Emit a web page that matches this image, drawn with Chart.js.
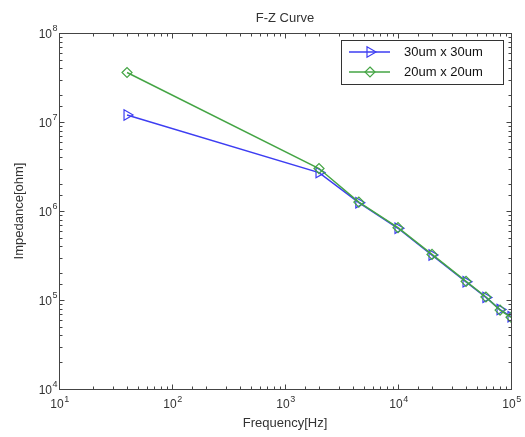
<!DOCTYPE html>
<html><head><meta charset="utf-8">
<script src="https://cdn.jsdelivr.net/npm/chart.js@4.4.0/dist/chart.umd.min.js"></script>
<style>html,body{margin:0;padding:0;background:#fff;}#wrap{width:525px;height:437px;}</style>
</head><body><div id="wrap"><canvas id="c" width="525" height="437"></canvas></div>
<script>
const chartTitle = 'F-Z Curve';
const xAxisTitle = 'Frequency[Hz]';
const yAxisTitle = 'Impedance[ohm]';
const frequencies = [40, 2000, 4500, 10000, 20000, 40000, 60000, 80000, 100000];
const series30Name = '30um x 30um';
const series30 = [1.2e7, 2.7e6, 1.24e6, 6.4e5, 3.2e5, 1.6e5, 1.07e5, 7.8e4, 6.5e4];
const series20Name = '20um x 20um';
const series20 = [3.6e7, 3.0e6, 1.26e6, 6.5e5, 3.25e5, 1.62e5, 1.08e5, 7.7e4, 6.4e4];
const tickBase = '10';
const xTickValues = [10, 100, 1000, 10000, 100000];
const xTickExponents = ['1', '2', '3', '4', '5'];
const yTickValues = [1e4, 1e5, 1e6, 1e7, 1e8];
const yTickExponents = ['4', '5', '6', '7', '8'];

const BLUE = '#3d3df2';
const GREEN = '#45a545';
const TEXT = '#333333';
const AXIS = '#444444';
const FONT = "'Liberation Sans', Arial, sans-serif";

function isMajor(v) {
  const l = Math.log10(v);
  return Math.abs(l - Math.round(l)) < 1e-6;
}

function drawTri(ctx, x, y, r) {
  ctx.beginPath();
  ctx.moveTo(x + r, y);
  ctx.lineTo(x - 0.5 * r, y + 0.866 * r);
  ctx.lineTo(x - 0.5 * r, y - 0.866 * r);
  ctx.closePath();
  ctx.stroke();
}
function drawDia(ctx, x, y, r) {
  ctx.beginPath();
  ctx.moveTo(x, y - r);
  ctx.lineTo(x + r, y);
  ctx.lineTo(x, y + r);
  ctx.lineTo(x - r, y);
  ctx.closePath();
  ctx.stroke();
}

const BASE_FONT = '12px ' + FONT;
const EXP_FONT = '9px ' + FONT;

function powerLabelWidth(ctx, exp) {
  ctx.font = BASE_FONT;
  const w1 = ctx.measureText(tickBase).width;
  ctx.font = EXP_FONT;
  const w2 = ctx.measureText(exp).width;
  return [w1, w2];
}

const framePlugin = {
  id: 'frame',
  beforeDraw(chart) {
    const ctx = chart.ctx;
    ctx.save();
    ctx.fillStyle = '#fff';
    ctx.fillRect(0, 0, chart.width, chart.height);
    ctx.restore();
  },
  afterDraw(chart) {
    const { ctx, chartArea: a, scales: { x, y } } = chart;
    ctx.save();
    ctx.strokeStyle = AXIS;
    ctx.lineWidth = 1;
    const L = Math.round(a.left) + 0.5, R = Math.round(a.right) + 0.5;
    const T = Math.round(a.top) + 0.5, B = Math.round(a.bottom) + 0.5;
    ctx.strokeRect(L, T, R - L, B - T);
    ctx.beginPath();
    x.ticks.forEach(t => {
      const px = Math.round(x.getPixelForValue(t.value)) + 0.5;
      const len = isMajor(t.value) ? 5 : 3;
      ctx.moveTo(px, B); ctx.lineTo(px, B - len);
      ctx.moveTo(px, T); ctx.lineTo(px, T + len);
    });
    y.ticks.forEach(t => {
      const py = Math.round(y.getPixelForValue(t.value)) + 0.5;
      const len = isMajor(t.value) ? 5 : 3;
      ctx.moveTo(L, py); ctx.lineTo(L + len, py);
      ctx.moveTo(R, py); ctx.lineTo(R - len, py);
    });
    ctx.stroke();

    // tick labels 10^n
    ctx.fillStyle = TEXT;
    ctx.textBaseline = 'middle';
    ctx.textAlign = 'left';
    xTickValues.forEach((v, i) => {
      const px = x.getPixelForValue(v);
      const [w1, w2] = powerLabelWidth(ctx, xTickExponents[i]);
      const sx = px - (w1 + w2) / 2 + 0.5;
      ctx.font = BASE_FONT;
      ctx.fillText(tickBase, sx, B + 15);
      ctx.font = EXP_FONT;
      ctx.fillText(xTickExponents[i], sx + w1 + 0.5, B + 10);
    });
    yTickValues.forEach((v, i) => {
      const py = y.getPixelForValue(v);
      const [w1, w2] = powerLabelWidth(ctx, yTickExponents[i]);
      const ex = L - 2;
      ctx.font = BASE_FONT;
      ctx.fillText(tickBase, ex - w2 - 0.5 - w1, py + 2);
      ctx.font = EXP_FONT;
      ctx.fillText(yTickExponents[i], ex - w2, py - 4);
    });

    // title
    ctx.fillStyle = TEXT;
    ctx.font = '13px ' + FONT;
    ctx.textAlign = 'center';
    ctx.textBaseline = 'middle';
    ctx.fillText(chartTitle, (a.left + a.right) / 2, 18);

    // legend
    const bx = 341, by = 40, bw = 162, bh = 44;
    ctx.fillStyle = '#fff';
    ctx.fillRect(bx, by, bw, bh);
    ctx.strokeStyle = '#333';
    ctx.lineWidth = 1;
    ctx.strokeRect(bx + 0.5, by + 0.5, bw, bh);
    const items = [
      { name: chart.data.datasets[0].label, color: BLUE, y: 52, mk: 'tri' },
      { name: chart.data.datasets[1].label, color: GREEN, y: 72, mk: 'dia' }
    ];
    items.forEach(it => {
      ctx.strokeStyle = it.color;
      ctx.lineWidth = 1.5;
      ctx.beginPath();
      ctx.moveTo(349, it.y); ctx.lineTo(390, it.y);
      ctx.stroke();
      ctx.lineWidth = 1.2;
      if (it.mk === 'tri') drawTri(ctx, 370, it.y, 6); else drawDia(ctx, 370, it.y, 5);
      ctx.fillStyle = '#111';
      ctx.font = '13px ' + FONT;
      ctx.textAlign = 'left';
      ctx.textBaseline = 'middle';
      ctx.fillText(it.name, 404, it.y);
    });
    ctx.restore();
  }
};

new Chart(document.getElementById('c'), {
  type: 'line',
  data: {
    datasets: [
      {
        label: series30Name,
        data: frequencies.map((f, i) => ({ x: f, y: series30[i] })),
        borderColor: BLUE,
        borderWidth: 1.5,
        pointStyle: 'triangle',
        pointRotation: 90,
        pointRadius: 6,
        pointBorderWidth: 1.2,
        pointBorderColor: BLUE,
        pointBackgroundColor: 'rgba(0,0,0,0)',
        tension: 0,
        order: 2
      },
      {
        label: series20Name,
        data: frequencies.map((f, i) => ({ x: f, y: series20[i] })),
        borderColor: GREEN,
        borderWidth: 1.5,
        pointStyle: 'rectRot',
        pointRadius: 5,
        pointBorderWidth: 1.2,
        pointBorderColor: GREEN,
        pointBackgroundColor: 'rgba(0,0,0,0)',
        tension: 0,
        order: 1
      }
    ]
  },
  options: {
    responsive: false,
    animation: false,
    devicePixelRatio: 1,
    layout: { padding: { left: 0, top: 33, right: 14, bottom: 0 } },
    plugins: { legend: { display: false }, title: { display: false }, tooltip: { enabled: false } },
    scales: {
      x: {
        type: 'logarithmic',
        min: 10, max: 1e5,
        grid: { display: false },
        border: { display: false },
        ticks: { autoSkip: false, maxRotation: 0, minRotation: 0, padding: 6, callback: () => '' },
        title: { display: true, text: xAxisTitle, color: TEXT, font: { family: FONT, size: 13 },
                 padding: { top: 0, bottom: 6 } },
        afterFit(s) { s.height = 48; }
      },
      y: {
        type: 'logarithmic',
        min: 1e4, max: 1e8,
        grid: { display: false },
        border: { display: false },
        ticks: { autoSkip: false, padding: 2, callback: () => '' },
        title: { display: true, text: yAxisTitle, color: TEXT, font: { family: FONT, size: 13 },
                 padding: { top: 12, bottom: 0 } },
        afterFit(s) { s.width = 59; }
      }
    }
  },
  plugins: [framePlugin]
});
</script>
</body></html>
